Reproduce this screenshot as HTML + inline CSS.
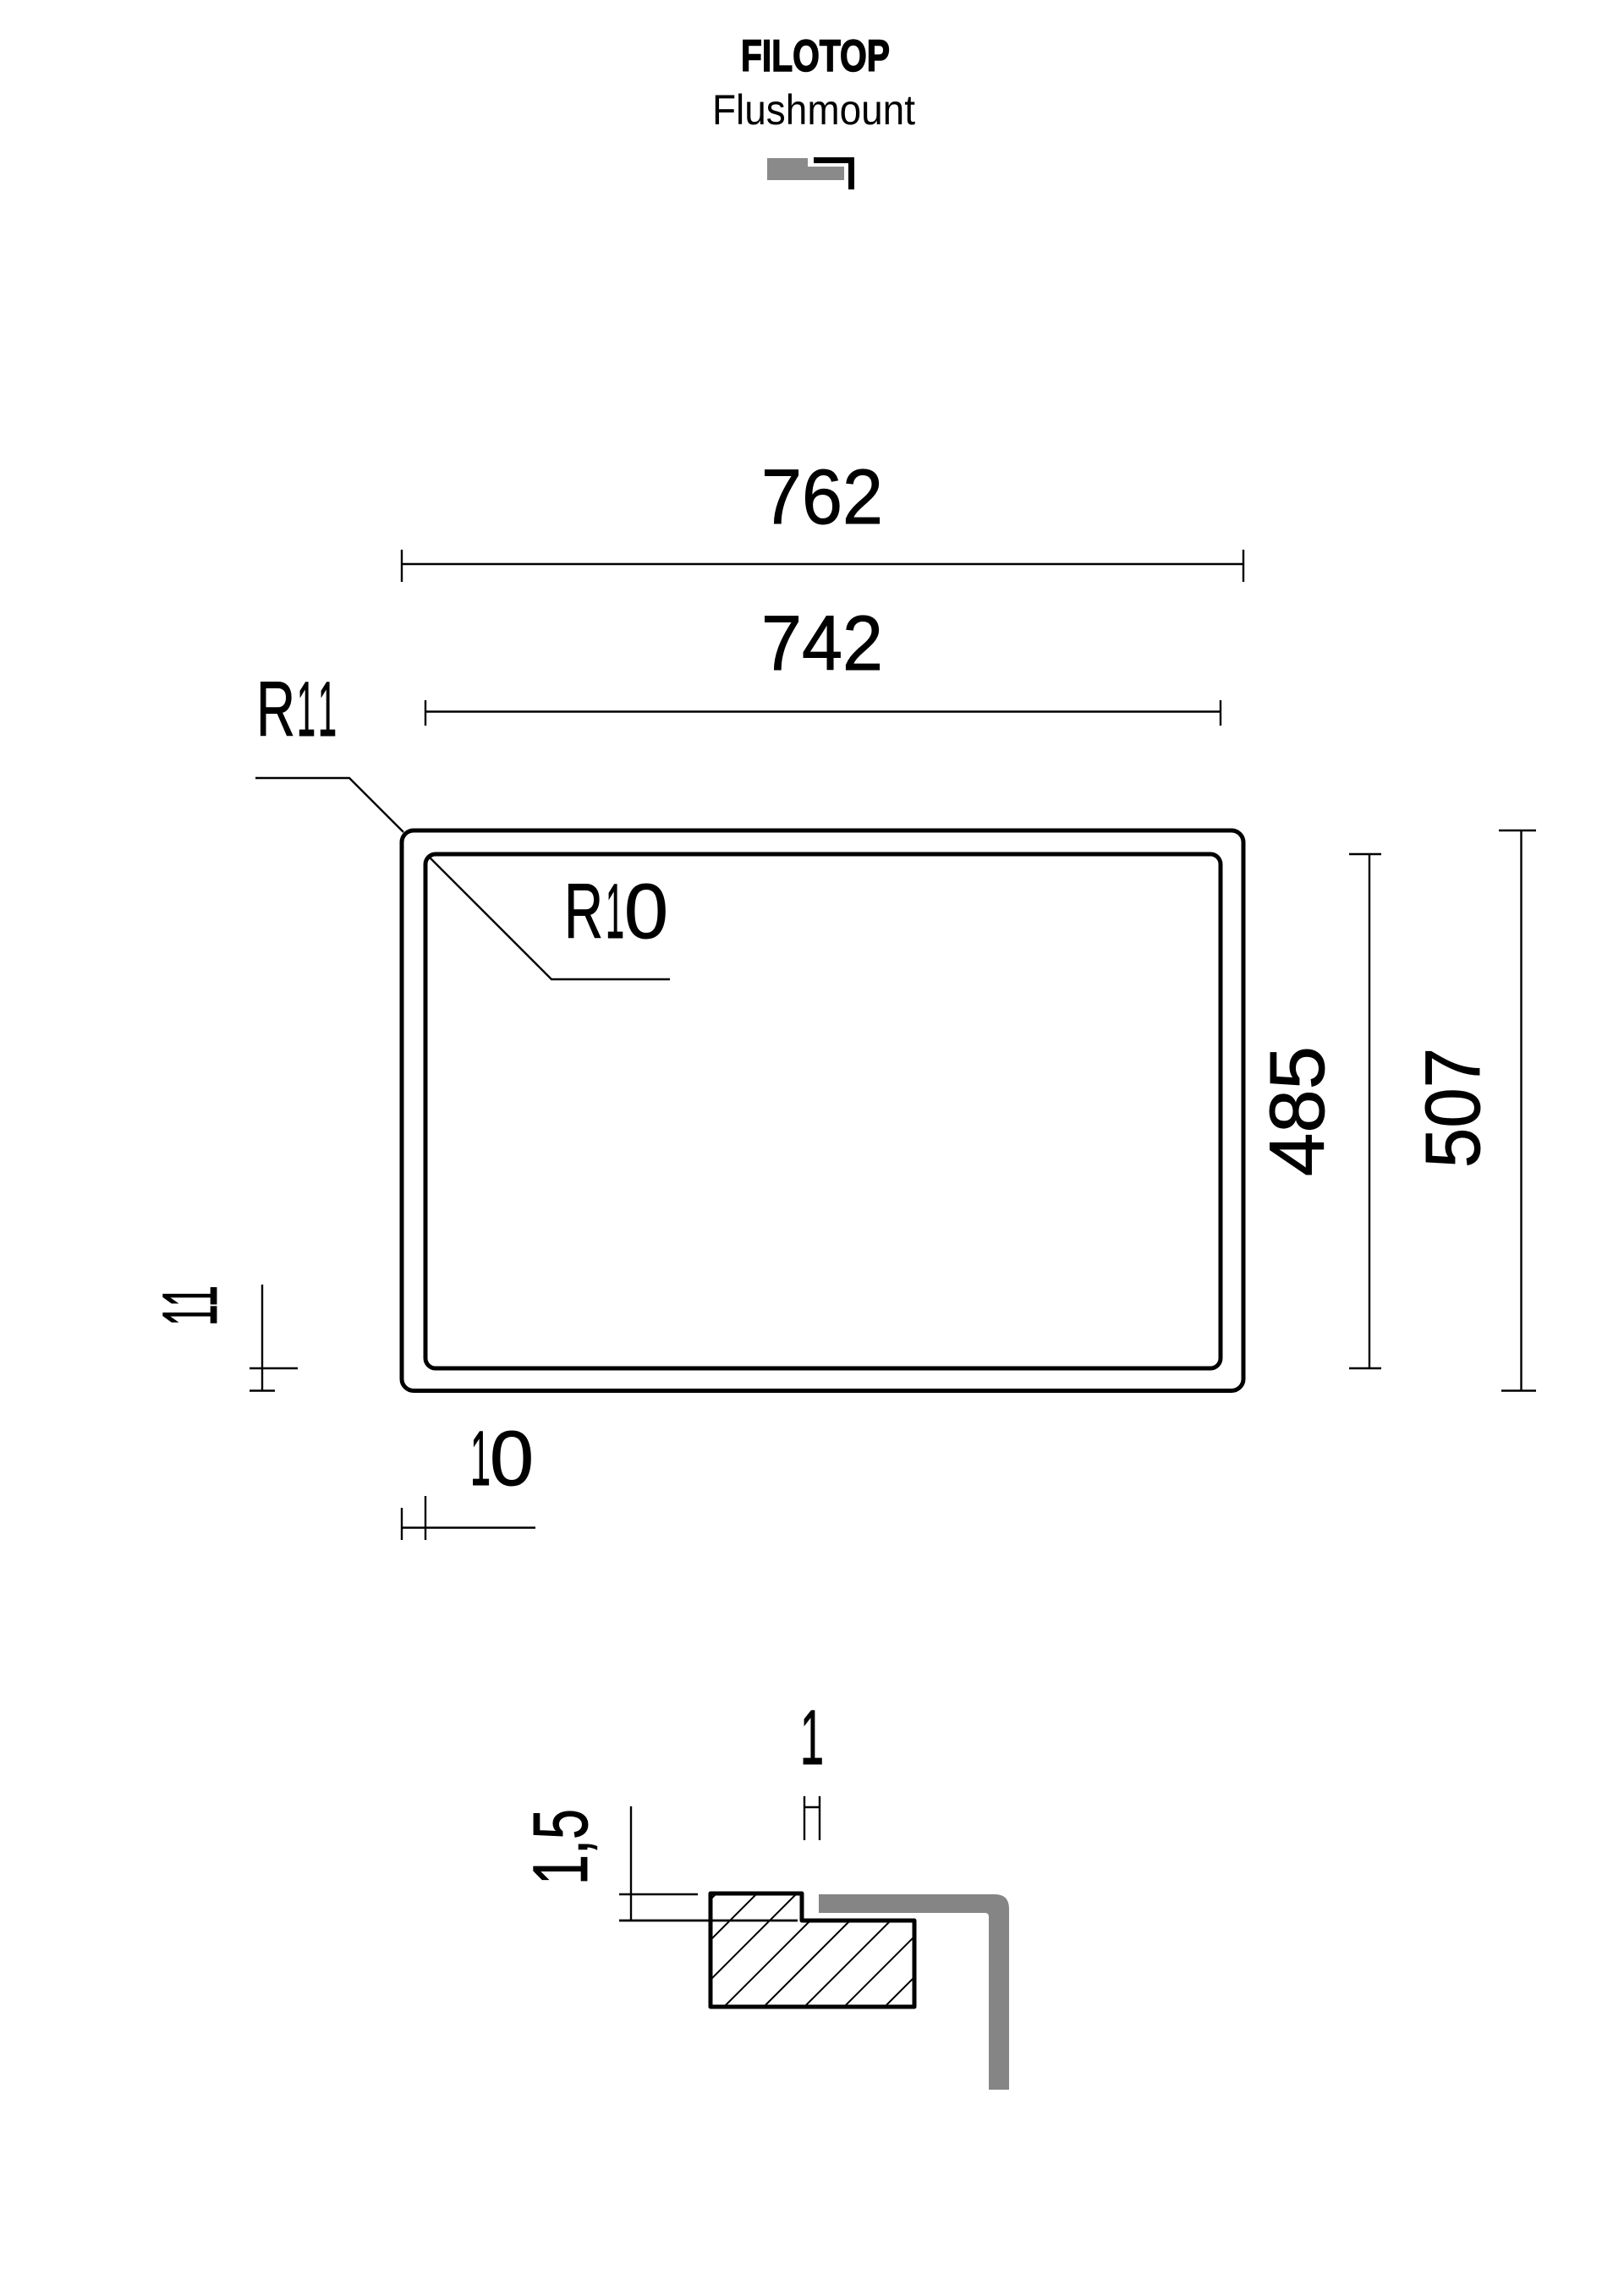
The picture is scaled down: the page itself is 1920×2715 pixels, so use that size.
<!DOCTYPE html>
<html>
<head>
<meta charset="utf-8">
<style>
html,body{margin:0;padding:0;background:#fff;}
svg{display:block;}
text{font-family:"Liberation Sans",sans-serif;fill:#000;}
.d{font-size:92px;stroke:#000;stroke-width:.9px;}
</style>
</head>
<body>
<svg xmlns="http://www.w3.org/2000/svg" width="1920" height="2715" viewBox="0 0 1920 2715">
<rect width="1920" height="2715" fill="#fff"/>
<defs>
<clipPath id="pc"><path d="M840 2239H948V2271H1081V2373H840Z"/></clipPath>
</defs>

<!-- header -->
<text x="876" y="84" font-size="53" font-weight="700" stroke="#000" stroke-width="1.6" textLength="176" lengthAdjust="spacingAndGlyphs">FILOTOP</text>
<text x="842" y="147" font-size="50" textLength="240" lengthAdjust="spacingAndGlyphs">Flushmount</text>
<path d="M907 187H955V197H998V213H907Z" fill="#8a8a8a"/>
<path d="M962 186H1010V224H1003V193H962Z" fill="#000"/>

<!-- plan -->
<rect x="475" y="982" width="995" height="662.5" rx="14" fill="none" stroke="#000" stroke-width="5"/>
<rect x="503" y="1010" width="940" height="608" rx="12" fill="none" stroke="#000" stroke-width="5"/>

<g fill="none" stroke="#000" stroke-width="2.4">
<!-- 762 -->
<path d="M475 667H1470M475 650V688M1470 650V688"/>
<!-- 742 -->
<path d="M503 841.500H1443M503 828V858M1443 828V858"/>
<!-- leaders -->
<path d="M302 920H413L477 984"/>
<path d="M508 1014L652 1158H792"/>
<!-- 485 -->
<path d="M1619 1010V1618M1595 1010H1633M1595 1618H1633"/>
<!-- 507 -->
<path d="M1798.500 982V1644.500M1772 982H1816M1775 1644.500H1816"/>
<!-- 11 -->
<path d="M310 1519V1644.500M295 1618H352M295 1644.500H325"/>
<!-- 10 -->
<path d="M475 1806.500H633M475 1783V1821M503 1769V1821"/>
<!-- 1 -->
<path d="M951 2124V2176M969 2124V2176M951 2137H969"/>
<!-- 1,5 -->
<path d="M746 2136V2271M732 2240H825M732 2271H943"/>
</g>

<!-- section -->
<g clip-path="url(#pc)" stroke="#000" stroke-width="2" fill="none">
<path d="M840 2246L847 2239M840 2294L895 2239M840 2341L942 2239M856 2373L958 2271M903 2373L1005 2271M951 2373L1053 2271M998 2373L1081 2290M1046 2373L1081 2338"/>
</g>
<path d="M840 2239H948V2271H1081V2373H840Z" fill="none" stroke="#000" stroke-width="5" stroke-linejoin="round"/>
<path d="M732 2271H943" stroke="#000" stroke-width="2.4" fill="none"/>
<path d="M968 2240H1176Q1193 2240 1193 2257V2471H1169V2267Q1169 2262 1165 2262H968Z" fill="#858585"/>

<!-- labels -->
<text class="d" x="972" y="619" text-anchor="middle" textLength="144" lengthAdjust="spacingAndGlyphs">762</text>
<text class="d" x="972" y="792" text-anchor="middle" textLength="144" lengthAdjust="spacingAndGlyphs">742</text>
<text class="d" x="303" y="870" textLength="46" lengthAdjust="spacingAndGlyphs">R</text>
<text class="d" x="351" y="870" textLength="22" lengthAdjust="spacingAndGlyphs">1</text>
<text class="d" x="376" y="870" textLength="22" lengthAdjust="spacingAndGlyphs">1</text>
<text class="d" x="667" y="1109" textLength="46" lengthAdjust="spacingAndGlyphs">R</text>
<text class="d" x="716" y="1109" textLength="22" lengthAdjust="spacingAndGlyphs">1</text>
<text class="d" x="738" y="1109" textLength="52" lengthAdjust="spacingAndGlyphs">0</text>
<text class="d" x="556" y="1756" textLength="24" lengthAdjust="spacingAndGlyphs">1</text>
<text class="d" x="579" y="1756" textLength="52" lengthAdjust="spacingAndGlyphs">0</text>
<text class="d" x="960" y="2086" text-anchor="middle" textLength="28" lengthAdjust="spacingAndGlyphs">1</text>
<text class="d" transform="translate(1565,1314) rotate(-90)" text-anchor="middle" textLength="154" lengthAdjust="spacingAndGlyphs">485</text>
<text class="d" transform="translate(1749,1310) rotate(-90)" text-anchor="middle" textLength="142" lengthAdjust="spacingAndGlyphs">507</text>
<text class="d" transform="translate(256,1544) rotate(-90)" text-anchor="middle" textLength="48" lengthAdjust="spacingAndGlyphs">11</text>
<text class="d" transform="translate(694,2184) rotate(-90)" text-anchor="middle" textLength="90" lengthAdjust="spacingAndGlyphs">1,5</text>
</svg>
</body>
</html>
